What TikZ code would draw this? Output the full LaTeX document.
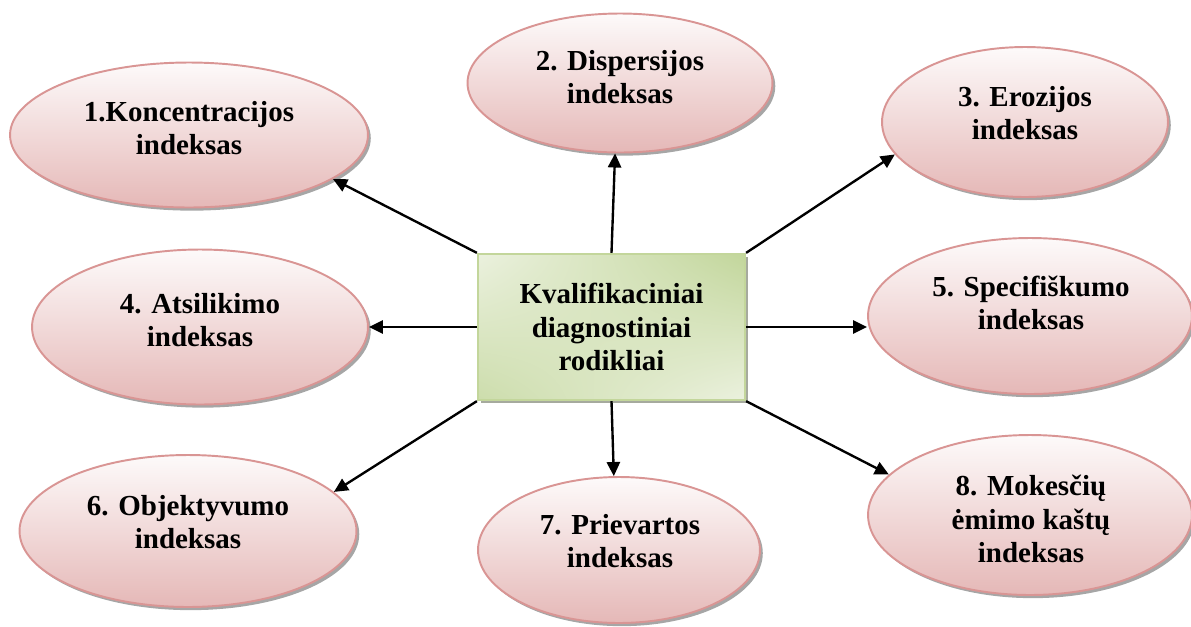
\documentclass[tikz,border=0pt]{standalone}
\usepackage{fontspec}
\setmainfont{Liberation Serif}
\usepackage{tikz}
\usetikzlibrary{arrows.meta, shapes.geometric, shadows, shadings, calc}
\definecolor{pinktop}{HTML}{FDFAFA}
\definecolor{pinkbot}{HTML}{E5B8B7}
\definecolor{pinkbd}{HTML}{D99594}
\definecolor{greenlt}{HTML}{EBF1DE}
\definecolor{greendk}{HTML}{C2D69B}
\definecolor{greenbd}{HTML}{C3D69B}

\begin{document}
\begin{tikzpicture}[
    x=0.02cm, y=-0.02cm,
    idx/.style={
        ellipse, draw=pinkbd, line width=1.1pt,
        top color=pinktop, bottom color=pinkbot, inner sep=0pt,
        drop shadow={shadow xshift=1.6pt, shadow yshift=-1.8pt, fill=black, opacity=0.35}
    },
    idxtext/.style={
        font=\fontsize{16.5}{19}\selectfont\bfseries, align=center, inner sep=0pt
    },
    hub/.style={
        draw=greenbd, line width=1.3pt, minimum width=5.34cm, minimum height=2.92cm,
        upper left=greenlt, upper right=greendk, lower left=greendk!75!greenlt,
        lower right=greenlt, align=center, font=\fontsize{16.5}{19}\selectfont\bfseries,
        drop shadow={shadow xshift=1.6pt, shadow yshift=-1.8pt, fill=black!60!greendk, opacity=0.5}
    },
    arr/.style={-{Triangle[length=8pt, width=7.5pt]}, line width=1.35pt}
]
\useasboundingbox (0,0) rectangle (1191,626);

% ===== Index ellipses =====
\node[idx, minimum width=7.16cm, minimum height=2.90cm] (e1) at (189,135) {};
\node[idx, minimum width=6.10cm, minimum height=2.78cm] (e2) at (620,83) {};
\node[idx, minimum width=5.72cm, minimum height=3.00cm] (e3) at (1025,122) {};
\node[idx, minimum width=6.72cm, minimum height=3.10cm] (e4) at (200,327) {};
\node[idx, minimum width=6.48cm, minimum height=3.12cm] (e5) at (1030,316) {};
\node[idx, minimum width=6.74cm, minimum height=3.04cm] (e6) at (188,531) {};
\node[idx, minimum width=5.64cm, minimum height=2.92cm] (e7) at (619,550) {};
\node[idx, minimum width=6.48cm, minimum height=3.20cm] (e8) at (1030,515) {};

% texts sit a little above the middle of each ellipse
\node[idxtext] (t1) at (189,128) {1.Koncentracijos\\indeksas};
\node[idxtext] (t2) at (620,77) {2. Dispersijos\\indeksas};
\node[idxtext] (t3) at (1025,113) {3. Erozijos\\indeksas};
\node[idxtext] (t4) at (200,320) {4. Atsilikimo\\indeksas};
\node[idxtext] (t5) at (1031,303) {5. Specifiškumo\\indeksas};
\node[idxtext] (t6) at (188,522) {6. Objektyvumo\\indeksas};
\node[idxtext] (t7) at (620,541) {7. Prievartos\\indeksas};
\node[idxtext] (t8) at (1031,519) {8. Mokesčių\\ėmimo kaštų\\indeksas};

% ===== Central box =====
\node[hub] (box) at (611.5,327) {Kvalifikaciniai\\diagnostiniai\\rodikliai};

% Arrows from the box out to every index
\foreach \i/\j in {box.north west/e1.-17, box.north/e2.-94, box.north east/e3.-166,
                   box.south west/e6.15, box.south/e7.94, box.south east/e8.164} {
    \draw[arr] (\i) -- (\j);
}
\draw[arr] (box.west) -- (box.west -| e4.east);
\draw[arr] (box.east) -- (box.east -| e5.west);

\end{tikzpicture}
\end{document}
